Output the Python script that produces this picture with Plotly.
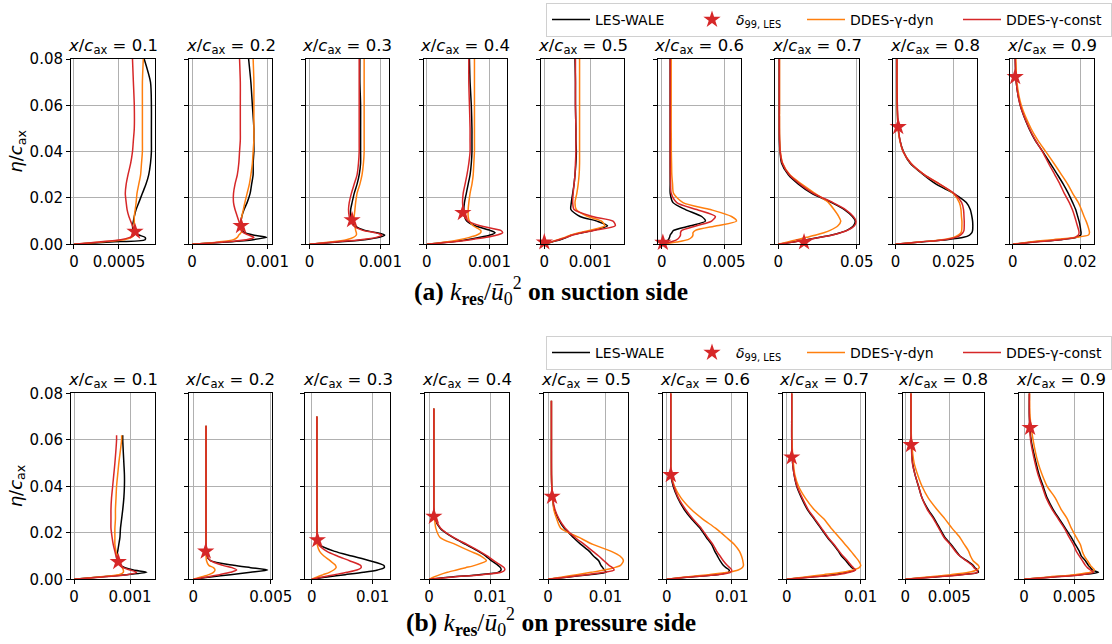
import plotly.graph_objects as go

# ---------------- data ----------------
ETA = [0, .001, .002, .003, .004, .005, .006, .008, .010, .012, .015, .018,
       .022, .026, .030, .035, .040, .045, .050, .060, .070, .080]
STATIONS = ["0.1", "0.2", "0.3", "0.4", "0.5", "0.6", "0.7", "0.8", "0.9"]

# suction side, k_res/u0^2 at ETA
SUC_LES = [
    [0, .00040, .00079, .00079, .00072, .00068, .00066, .00065, .00066, .00067, .00069, .00072, .00076, .00080, .00083, .00085, .00086, .00086, .00086, .00086, .00085, .00078],
    [0, .00046, .00081, .00099, .00081, .00070, .00066, .00065, .00065, .00066, .00069, .00073, .00077, .00079, .00081, .00081, .00082, .00082, .00082, .00080, .00078, .00075],
    [0, .00040, .00078, .00098, .00106, .00095, .00078, .00064, .00060, .00058, .00058, .00060, .00063, .00067, .00070, .00072, .00072, .00072, .00072, .00072, .00071, .00071],
    [0, .00037, .00064, .00085, .00101, .00109, .00101, .00077, .00064, .00060, .00059, .00060, .00063, .00066, .00069, .00071, .00072, .00072, .00072, .00071, .00069, .00068],
    [0, .00017, .00035, .00049, .00060, .00082, .00107, .00138, .00115, .00078, .00058, .00059, .00062, .00065, .00067, .00069, .00070, .00069, .00069, .00068, .00068, .00067],
    [0, .00027, .00053, .00062, .00067, .00080, .00094, .00230, .00350, .00320, .00190, .00090, .00067, .00067, .00067, .00067, .00067, .00067, .00067, .00067, .00067, .00067],
    [0, .0096, .0180, .0266, .0340, .0394, .0436, .0479, .0490, .0472, .0421, .0340, .0213, .0128, .0064, .0021, .0011, .00070, .00064, .00064, .00064, .00064],
    [0, .0106, .0221, .0293, .0319, .0329, .0332, .0333, .0332, .0329, .0322, .0305, .0250, .0175, .0121, .0063, .0034, .0019, .00115, .00070, .00057, .00057],
    [0, .0061, .0141, .0190, .0202, .0203, .0202, .0200, .0197, .0193, .0187, .0178, .0165, .0150, .0133, .0111, .0089, .0066, .0048, .0022, .0010, .0007],
]
SUC_DYN = [
    [0, .00030, .00056, .00064, .00067, .00068, .00068, .00067, .00067, .00067, .00068, .00069, .00070, .00072, .00074, .00075, .00076, .00076, .00076, .00076, .00076, .00077],
    [0, .00035, .00055, .00060, .00062, .00065, .00066, .00065, .00065, .00066, .00068, .00070, .00073, .00076, .00078, .00080, .00081, .00082, .00082, .00082, .00082, .00081],
    [0, .00030, .00052, .00062, .00066, .00066, .00065, .00064, .00063, .00063, .00064, .00065, .00067, .00071, .00074, .00076, .00077, .00077, .00077, .00077, .00077, .00077],
    [0, .00030, .00052, .00068, .00080, .00086, .00086, .00074, .00068, .00066, .00066, .00067, .00069, .00072, .00074, .00075, .00076, .00076, .00076, .00076, .00076, .00076],
    [0, .00015, .00030, .00045, .00058, .00075, .00098, .00132, .00125, .00095, .00070, .00067, .00071, .00074, .00076, .00077, .00077, .00077, .00077, .00077, .00077, .00077],
    [0, .0012, .0021, .0024, .0025, .0025, .0027, .0044, .0060, .0056, .0039, .0017, .00094, .00086, .00080, .00078, .00076, .00076, .00075, .00075, .00075, .00075],
    [0, .0060, .0120, .0180, .0240, .0290, .0330, .0380, .0398, .0385, .0355, .0320, .0234, .0149, .0074, .0028, .0013, .0009, .0008, .0008, .0008, .0008],
    [0, .0100, .0200, .0250, .0270, .0282, .0285, .0286, .0286, .0284, .0282, .0275, .0248, .0190, .0125, .0066, .0033, .0018, .0011, .0007, .0006, .00055],
    [0, .0050, .0120, .0190, .0225, .0228, .0227, .0223, .0218, .0212, .0204, .0195, .0178, .0163, .0145, .0122, .0098, .0074, .0054, .0025, .0012, .0009],
]
SUC_CONST = [
    [0, .00028, .00052, .00062, .00067, .00068, .00067, .00065, .00063, .00061, .00059, .00058, .00057, .00058, .00060, .00063, .00065, .00066, .00067, .00067, .00066, .00065],
    [0, .00042, .00072, .00082, .00075, .00068, .00065, .00064, .00062, .00060, .00057, .00055, .00055, .00057, .00060, .00062, .00063, .00064, .00064, .00064, .00064, .00063],
    [0, .00036, .00072, .00094, .00102, .00092, .00075, .00062, .00058, .00056, .00055, .00056, .00059, .00063, .00067, .00069, .00070, .00070, .00070, .00070, .00070, .00070],
    [0, .00040, .00070, .00095, .00112, .00121, .00118, .00085, .00066, .00060, .00058, .00057, .00058, .00061, .00064, .00067, .00069, .00069, .00069, .00068, .00067, .00067],
    [0, .00015, .00032, .00048, .00062, .00082, .00108, .00155, .00150, .00105, .00065, .00062, .00063, .00065, .00067, .00068, .00069, .00069, .00069, .00068, .00068, .00068],
    [0, .0007, .0012, .0014, .0015, .0015, .0016, .0028, .0040, .0043, .0028, .0012, .00075, .00070, .00068, .00067, .00067, .00067, .00067, .00067, .00067, .00067],
    [0, .0100, .0185, .0270, .0345, .0398, .0440, .0485, .0495, .0478, .0428, .0348, .0223, .0138, .0070, .0026, .0012, .0008, .00066, .00064, .00064, .00064],
    [0, .0105, .0210, .0260, .0280, .0290, .0295, .0296, .0296, .0295, .0293, .0285, .0252, .0190, .0125, .0066, .0033, .0019, .0012, .0008, .0006, .0006],
    [0, .0065, .0140, .0185, .0195, .0197, .0196, .0192, .0188, .0184, .0177, .0168, .0153, .0140, .0125, .0106, .0088, .0067, .0049, .0022, .0010, .0007],
]
SUC_D99_K = [.000678, .00065, .00060, .000575, 0.0, .00008, .0164, .00115, .00069]
SUC_D99_ETA = [.0055, .0080, .0105, .0136, .0009, .0007, .0009, .0507, .0723]

# pressure side, k_res/u0^2 at ETA
PRE_LES = [
    [0, .00046, .00094, .00130, .00106, .00091, .00083, .00077, .00076, .00078, .00080, .00082, .00083, .00085, .00087, .00089, .00090, .00090, .00089, .00087, .00087, .00087],
    [0, .0011, .0024, .0037, .0048, .0037, .0026, .0011, .00086, .00082, .00082, .00082, .00082, .00082, .00082, .00082, .00082, .00082, .00082, .00082, .00082, .00082],
    [0, .0025, .0055, .0085, .0108, .0119, .0118, .0095, .0066, .0038, .0012, .0009, .00088, .00085, .00085, .00085, .00085, .00085, .00085, .00085, .00085, .00085],
    [0, .0037, .0082, .0113, .0118, .0117, .0113, .0102, .0093, .0081, .0060, .0039, .0018, .00095, .00078, .00078, .00078, .00078, .00078, .00078, .00078, .00078],
    [0, .0036, .0072, .0101, .0098, .0095, .0092, .0088, .0079, .0072, .0057, .0044, .0028, .0018, .0011, .00076, .00065, .00060, .00059, .00059, .00059, .00059],
    [0, .0035, .0077, .0095, .0096, .0091, .0087, .0082, .0078, .0074, .0069, .0061, .0051, .0038, .0027, .0017, .0010, .00063, .00063, .00063, .00063, .00063],
    [0, .0032, .0063, .0081, .0092, .0088, .0085, .0080, .0074, .0070, .0063, .0055, .0046, .0037, .0028, .0020, .00135, .0010, .0008, .00068, .00068, .00068],
    [0, .0032, .0062, .0083, .0082, .0079, .0077, .0070, .0062, .0058, .0052, .0045, .0039, .0033, .0026, .0019, .0015, .0011, .00083, .00068, .00064, .00064],
    [0, .0029, .0056, .0074, .0068, .0066, .0064, .0061, .0057, .0055, .0051, .0047, .0041, .0035, .0029, .0023, .0019, .0015, .0012, .0007, .00053, .00053],
]
PRE_DYN = [
    [0, .00045, .00080, .00088, .00088, .00086, .00083, .00080, .00077, .00075, .00073, .00073, .00073, .00074, .00074, .00075, .00076, .00078, .00080, .00085, .00085, .00085],
    [0, .0005, .0010, .0013, .0014, .0013, .0010, .00085, .00082, .00082, .00082, .00082, .00082, .00082, .00082, .00082, .00082, .00082, .00082, .00082, .00082, .00082],
    [0, .0009, .0019, .0029, .0036, .0040, .0039, .0030, .0020, .0013, .0009, .00085, .00085, .00085, .00085, .00085, .00085, .00085, .00085, .00085, .00085, .00085],
    [0, .0008, .0018, .0030, .0045, .0060, .0075, .0094, .0085, .0068, .0043, .0018, .0011, .0009, .00078, .00078, .00078, .00078, .00078, .00078, .00078, .00078],
    [0, .0025, .0050, .0075, .0098, .0115, .0126, .0131, .0125, .0110, .0078, .0054, .0022, .0015, .0010, .0008, .00065, .00060, .00059, .00059, .00059, .00059],
    [0, .0030, .0065, .0095, .0110, .0116, .0118, .0117, .0115, .0112, .0104, .0092, .0075, .0055, .0038, .0022, .0012, .0007, .00063, .00063, .00063, .00063],
    [0, .0025, .0050, .0075, .0090, .0098, .0100, .0097, .0092, .0087, .0079, .0071, .0060, .0050, .0037, .0025, .0016, .0011, .0009, .0007, .00068, .00068],
    [0, .0025, .0052, .0072, .0081, .0084, .0083, .0077, .0074, .0072, .0067, .0062, .0053, .0045, .0036, .0026, .0019, .0014, .0010, .0007, .00065, .00064],
    [0, .0025, .0050, .0066, .0070, .0068, .0066, .0063, .0060, .0058, .0056, .0052, .0047, .0043, .0037, .0031, .0023, .0018, .0014, .0009, .0006, .00055],
]
PRE_CONST = [
    [0, .00050, .00095, .00112, .00100, .00088, .00082, .00078, .00075, .00073, .00070, .00068, .00066, .00066, .00066, .00067, .00069, .00071, .00073, .00076, .00076, .00076],
    [0, .0009, .0017, .0024, .0028, .0025, .0019, .0011, .00088, .00082, .00082, .00082, .00082, .00082, .00082, .00082, .00082, .00082, .00082, .00082, .00082, .00082],
    [0, .0018, .0038, .0058, .0074, .0081, .0080, .0062, .0042, .0025, .0011, .0009, .00085, .00085, .00085, .00085, .00085, .00085, .00085, .00085, .00085, .00085],
    [0, .0040, .0088, .0118, .0124, .0123, .0118, .0106, .0096, .0083, .0062, .0040, .0019, .0010, .0008, .00078, .00078, .00078, .00078, .00078, .00078, .00078],
    [0, .0035, .0068, .0098, .0115, .0112, .0106, .0097, .0088, .0078, .0063, .0047, .0030, .0019, .0012, .0008, .00065, .00060, .00059, .00059, .00059, .00059],
    [0, .0035, .0078, .0098, .0100, .0097, .0093, .0087, .0082, .0077, .0071, .0063, .0053, .0040, .0029, .0018, .0011, .00065, .00063, .00063, .00063, .00063],
    [0, .0035, .0068, .0085, .0093, .0090, .0087, .0082, .0076, .0071, .0064, .0056, .0047, .0038, .0029, .0021, .0014, .0010, .0008, .00068, .00068, .00068],
    [0, .0034, .0065, .0082, .0081, .0078, .0076, .0069, .0062, .0057, .0051, .0044, .0038, .0032, .0025, .0019, .0015, .0011, .0008, .00066, .00064, .00064],
    [0, .0030, .0058, .0069, .0066, .0063, .0061, .0058, .0055, .0052, .0049, .0045, .0040, .0034, .0028, .0022, .0018, .0014, .0011, .00065, .00053, .00053],
]
PRE_END = [.062, .066, .070, .0735, .0768, .08, .08, .08, .08]
PRE_D99_K = [.00079, .0008, .00093, .00078, .0007, .00063, .00068, .00064, .0006]
PRE_D99_ETA = [.0075, .0120, .0169, .0270, .0356, .0449, .0525, .0578, .0652]

TOP_TICKS = [[0, .0005], [0, .001], [0, .001], [0, .001], [0, .001], [0, .005], [0, .05], [0, .025], [0, .02]]
TOP_TICKTEXT = [["0", "0.0005"], ["0", "0.001"], ["0", "0.001"], ["0", "0.001"], ["0", "0.001"],
                ["0", "0.005"], ["0", "0.05"], ["0", "0.025"], ["0", "0.02"]]
BOT_TICKS = [[0, .001], [0, .005], [0, .01], [0, .01], [0, .01], [0, .01], [0, .01], [0, .005], [0, .005]]
BOT_TICKTEXT = [["0", "0.001"], ["0", "0.005"], ["0", "0.01"], ["0", "0.01"], ["0", "0.01"],
                ["0", "0.01"], ["0", "0.01"], ["0", "0.005"], ["0", "0.005"]]
Y_TICKS = [0, .02, .04, .06, .08]
Y_TICKTEXT = ["0.00", "0.02", "0.04", "0.06", "0.08"]

# ---------------- layout geometry (pixels) ----------------
W, H = 1112, 644
TOP_PX = [(71, 155), (189, 272), (305.5, 389), (423.5, 507), (541, 624), (657.5, 741),
          (775, 858.5), (892.5, 977), (1009.5, 1093.5)]
BOT_PX = [(71, 155), (188.7, 272), (305.3, 390), (425, 509), (544, 628), (663.3, 746.7),
          (783.3, 865), (902.7, 984), (1019.3, 1103.3)]
TOP_Y = (59, 244.3)
BOT_Y = (393.3, 579.3)
TOP_XR = [(-0.000033, 0.0009), (-0.00004, 0.00106), (-0.000056, 0.00112), (-0.000054, 0.00128),
          (-0.000072, 0.00174), (-0.00035, 0.00636), (-0.0021, 0.0511), (-0.0013, 0.0351), (-0.001, 0.0240)]
BOT_XR = [(-0.0000536, 0.001446), (-0.0003, 0.00508), (-0.00105, 0.01284), (-0.00067, 0.0131),
          (-0.0007, 0.0139), (-0.00052, 0.0123), (-0.00046, 0.01058), (-0.0003, 0.00894), (-0.00047, 0.00788)]
LEG_SLOT = {"LES-WALE": 88, "star": 61, "DDES-γ-dyn": 103, "DDES-γ-const": 100}

C_LES, C_DYN, C_CONST = "#000000", "#ff7f0e", "#d62728"
FONT = "DejaVu Sans"

fig = go.Figure()
layout = dict(width=W, height=H, autosize=False,
              margin=dict(l=0, r=0, t=0, b=0, pad=0, autoexpand=False),
              paper_bgcolor="white", plot_bgcolor="white", showlegend=True)


def px_x(p):
    return p / W


def px_y(p):
    return 1 - p / H


annotations = []


def add_panel(idx, xpx, ypx, xr, ticks, ticktext, first, series, star, end, legend_name, show_leg):
    n = idx + 1
    xa = "xaxis" if n == 1 else f"xaxis{n}"
    ya = "yaxis" if n == 1 else f"yaxis{n}"
    xs = "x" if n == 1 else f"x{n}"
    ys = "y" if n == 1 else f"y{n}"
    axcommon = dict(showline=True, linecolor="black", linewidth=1, mirror=True,
                    ticks="outside", ticklen=4, tickwidth=1, tickcolor="black",
                    showgrid=True, gridcolor="#b0b0b0", gridwidth=0.8, zeroline=False,
                    automargin=False,
                    tickfont=dict(family=FONT, size=15, color="black"))
    layout[xa] = dict(domain=[px_x(xpx[0]), px_x(xpx[1])], range=list(xr), anchor=ys,
                      tickvals=ticks, ticktext=ticktext, **axcommon)
    layout[ya] = dict(domain=[px_y(ypx[1]), px_y(ypx[0])], range=[0, 0.08], anchor=xs,
                      tickvals=Y_TICKS, ticktext=Y_TICKTEXT, showticklabels=first, **axcommon)
    names = ["LES-WALE", "DDES-γ-dyn", "DDES-γ-const"]
    colors = [C_LES, C_DYN, C_CONST]
    ranks = [1, 3, 4]
    for vals, nm, col, rk in zip(series, names, colors, ranks):
        ex, ey = [], []
        for e, v in zip(ETA, vals):
            if e <= end:
                ex.append(v)
                ey.append(e)
        if ey[-1] < end:
            ex.append(ex[-1])
            ey.append(end)
        fig.add_trace(go.Scatter(x=ex, y=ey, mode="lines", name=nm, xaxis=xs, yaxis=ys,
                                 line=dict(color=col, width=1.5, shape="spline", smoothing=0.7),
                                 showlegend=show_leg, legend=legend_name, legendrank=rk,
                                 legendwidth=LEG_SLOT[nm], hoverinfo="skip"))
    fig.add_trace(go.Scatter(x=[star[0]], y=[star[1]], mode="markers",
                             name="<i>δ</i><sub>99, LES</sub>", xaxis=xs, yaxis=ys,
                             marker=dict(symbol="star", size=13, color=C_CONST, line=dict(width=0)),
                             showlegend=show_leg, legend=legend_name, legendrank=2,
                             legendwidth=LEG_SLOT["star"], cliponaxis=False, hoverinfo="skip"))
    annotations.append(dict(text=f"<i>x</i>/<i>c</i><sub>ax</sub> = {STATIONS[idx % 9]}",
                            xref="paper", yref="paper", x=px_x((xpx[0] + xpx[1]) / 2),
                            y=px_y(ypx[0]), yanchor="bottom", xanchor="center", yshift=0,
                            showarrow=False, font=dict(family=FONT, size=16.5, color="black")))


for i in range(9):
    add_panel(i, TOP_PX[i], TOP_Y, TOP_XR[i], TOP_TICKS[i], TOP_TICKTEXT[i], i == 0,
              [SUC_LES[i], SUC_DYN[i], SUC_CONST[i]], (SUC_D99_K[i], SUC_D99_ETA[i]), 0.08,
              "legend", i == 0)
for i in range(9):
    add_panel(i + 9, BOT_PX[i], BOT_Y, BOT_XR[i], BOT_TICKS[i], BOT_TICKTEXT[i], i == 0,
              [PRE_LES[i], PRE_DYN[i], PRE_CONST[i]], (PRE_D99_K[i], PRE_D99_ETA[i]), PRE_END[i],
              "legend2", i == 0)

# y-axis labels
for yc in [(TOP_Y[0] + TOP_Y[1]) / 2, (BOT_Y[0] + BOT_Y[1]) / 2]:
    annotations.append(dict(text="<i>η</i>/<i>c</i><sub>ax</sub>", xref="paper", yref="paper",
                            x=px_x(17), y=px_y(yc), textangle=-90, showarrow=False,
                            xanchor="center", yanchor="middle",
                            font=dict(family=FONT, size=18, color="black")))

# captions
CAP_FONT = dict(family="Liberation Serif", size=25.5, color="black")
annotations.append(dict(text="<b>(a)</b> <i>k</i><sub><b>res</b></sub>/<i>ū</i><sub>0</sub><sup>2</sup> <b>on suction side</b>",
                        xref="paper", yref="paper", x=px_x(551), y=px_y(291), showarrow=False,
                        xanchor="center", yanchor="middle", font=CAP_FONT))
annotations.append(dict(text="<b>(b)</b> <i>k</i><sub><b>res</b></sub>/<i>ū</i><sub>0</sub><sup>2</sup> <b>on pressure side</b>",
                        xref="paper", yref="paper", x=px_x(551), y=px_y(622), showarrow=False,
                        xanchor="center", yanchor="middle", font=CAP_FONT))

leg = dict(orientation="h", xanchor="left", yanchor="top", bgcolor="white",
           bordercolor="#d0d0d0", borderwidth=1, font=dict(family=FONT, size=14, color="black"),
           traceorder="normal", itemwidth=38)
layout["legend"] = dict(x=px_x(546), y=px_y(3), **leg)
layout["legend2"] = dict(x=px_x(546), y=px_y(336), **leg)
layout["annotations"] = annotations
fig.update_layout(**layout)
fig.write_html("out.html", config={"displayModeBar": False, "responsive": False},
               post_script="document.body.style.margin='0px';document.body.style.padding='0px';"
                           "document.body.style.overflow='hidden';")
